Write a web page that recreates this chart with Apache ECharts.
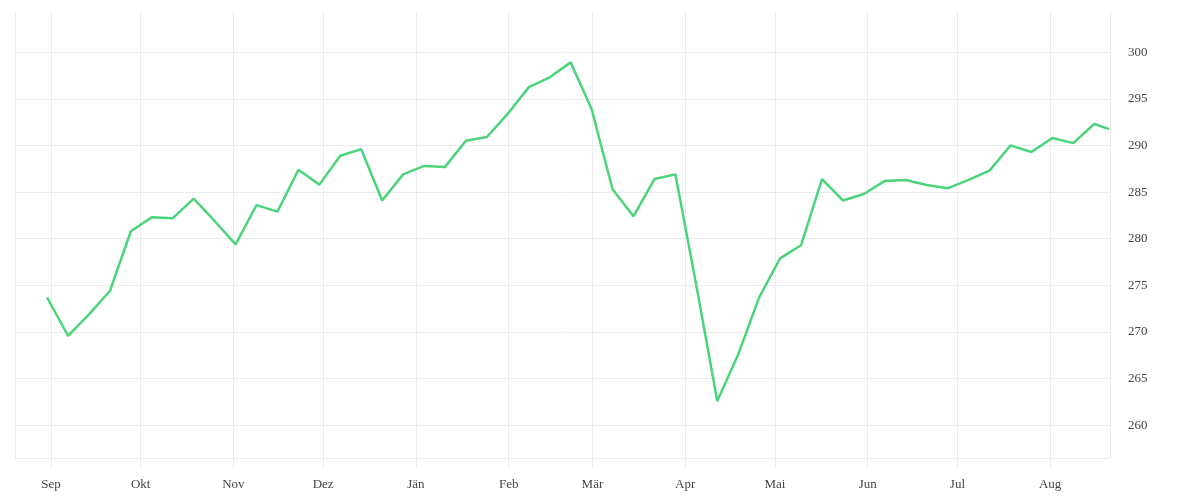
<!DOCTYPE html>
<html>
<head>
<meta charset="utf-8">
<script src="https://cdn.jsdelivr.net/npm/echarts@6/dist/echarts.min.js"></script>
<style>
html,body{margin:0;padding:0;background:#fff;}
#chart{width:1200px;height:500px;}
</style>
</head>
<body>
<div id="chart"></div>
<script>
const dates = [
  '2024-08-30','2024-09-06','2024-09-13','2024-09-20','2024-09-27',
  '2024-10-04','2024-10-11','2024-10-18','2024-10-25',
  '2024-11-01','2024-11-08','2024-11-15','2024-11-22','2024-11-29',
  '2024-12-06','2024-12-13','2024-12-20','2024-12-27',
  '2025-01-03','2025-01-10','2025-01-17','2025-01-24','2025-01-31',
  '2025-02-07','2025-02-14','2025-02-21','2025-02-28',
  '2025-03-07','2025-03-14','2025-03-21','2025-03-28',
  '2025-04-04','2025-04-11','2025-04-18','2025-04-25',
  '2025-05-02','2025-05-09','2025-05-16','2025-05-23','2025-05-30',
  '2025-06-06','2025-06-13','2025-06-20','2025-06-27',
  '2025-07-04','2025-07-11','2025-07-18','2025-07-25',
  '2025-08-01','2025-08-08','2025-08-15','2025-08-20'
];
const closeTime = '17:30';
const values = [
  273.7, 269.6, 271.9, 274.4, 280.8,
  282.3, 282.2, 284.3, 281.9,
  279.4, 283.6, 282.9, 287.4, 285.8,
  288.9, 289.6, 284.1, 286.9,
  287.8, 287.7, 290.5, 290.9, 293.4,
  296.25, 297.3, 298.9, 293.9,
  285.3, 282.4, 286.4, 286.9,
  275.0, 262.6, 267.6, 273.7,
  277.9, 279.3, 286.4, 284.1, 284.8,
  286.2, 286.3, 285.75, 285.4,
  286.3, 287.3, 290.0, 289.3,
  290.8, 290.25, 292.3, 291.75
];
const monthLabels = ['Jän','Feb','Mär','Apr','Mai','Jun','Jul','Aug','Sep','Okt','Nov','Dez'];
const xRange = ['2024-08-20', '2025-08-21'];
const yRange = [256.5, 304.3];

const gridColor = '#ececec';
const textColor = '#444';
const fontFamily = '"Liberation Serif", "DejaVu Serif", serif';

const chart = echarts.init(document.getElementById('chart'), null, {renderer: 'canvas'});
chart.setOption({
  animation: false,
  backgroundColor: '#fff',
  grid: {left: 15, right: 90, top: 12, bottom: 42, containLabel: false},
  xAxis: {
    type: 'time',
    min: xRange[0],
    max: xRange[1],
    splitNumber: 12,
    axisLine: {show: false},
    axisTick: {show: true, length: 10, lineStyle: {color: gridColor}},
    splitLine: {show: true, lineStyle: {color: gridColor, width: 1}},
    axisLabel: {
      color: textColor,
      fontFamily: fontFamily,
      fontSize: 13,
      margin: 20,
      hideOverlap: false,
      formatter: function (v) { return monthLabels[new Date(v).getMonth()]; }
    }
  },
  yAxis: {
    type: 'value',
    position: 'right',
    min: yRange[0],
    max: yRange[1],
    splitNumber: 9,
    axisLine: {show: true, lineStyle: {color: gridColor}},
    axisTick: {show: false},
    splitLine: {show: true, showMinLine: true, showMaxLine: false, lineStyle: {color: gridColor, width: 1}},
    axisLabel: {
      color: textColor,
      fontFamily: fontFamily,
      fontSize: 13,
      margin: 18,
      padding: [3, 0, 0, 0],
      showMinLabel: false,
      showMaxLabel: false
    }
  },
  series: [{
    type: 'line',
    data: dates.map((d, i) => [d + ' ' + closeTime, values[i]]),
    showSymbol: false,
    smooth: false,
    lineStyle: {color: '#4cd47b', width: 2.5},
    itemStyle: {color: '#4cd47b'}
  }]
});
</script>
</body>
</html>
